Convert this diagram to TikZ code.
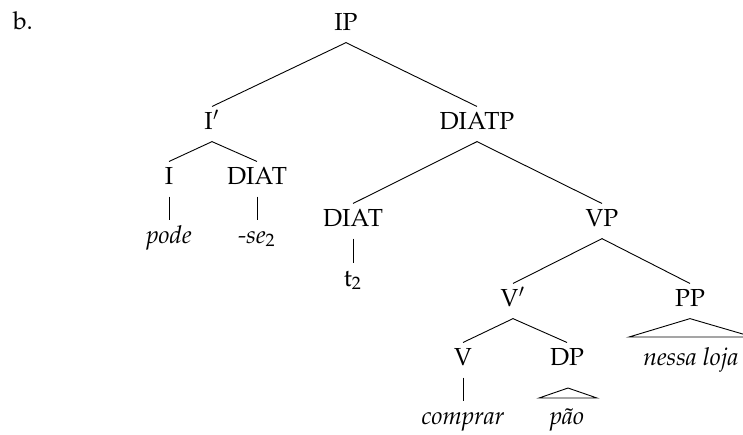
\documentclass[tikz,border=0pt,11pt]{standalone}
\usepackage[T1]{fontenc}
\usepackage{mathpazo}
\usepackage{tikz}
\usetikzlibrary{calc}

\tikzset{
  cat/.style={anchor=base, inner xsep=0pt, inner ysep=2.7pt, text height=7.1pt, text depth=2.7pt},
  lex/.style={cat, font=\itshape},
}

\begin{document}
\begin{tikzpicture}[x=0.444pt, y=-0.444pt]
        \useasboundingbox (0,0) rectangle (743,434);
        \node[cat] (ex) at (23,29) {b.};
        \node[cat] (ip) at (346,30) {IP};
        \node[cat] (ibar) at (212,129) {I$'$};
        \node[cat] (diatp) at (477,129) {DIATP};
        \node[cat] (i) at (169,184) {I};
        \node[cat] (diat) at (257,184) {DIAT};
        \node[lex] (pode) at (169,243) {pode};
        \node[lex] (se) at (257,243) {-se$_2$};
        \node[cat] (diatt) at (353,226) {DIAT};
        \node[cat] (trace) at (353,286) {t$_2$};
        \node[cat] (vp) at (602,226) {VP};
        \node[cat] (vbar) at (513,306) {V$'$};
        \node[cat] (pp) at (690,306) {PP};
        \node[cat] (v) at (463,365) {V};
        \node[cat] (dp) at (567,365) {DP};
        \node[lex] (comprar) at (463,424) {comprar};
        \node[lex] (pao) at (567,424) {p\~ao};
        \node[lex] (nl) at (691,365) {nessa loja};
        \foreach \a/\b in {ip/ibar, ip/diatp, ibar/i, ibar/diat, i/pode, diat/se,
            diatp/diatt, diatp/vp, diatt/trace, vp/vbar, vp/pp, vbar/v, vbar/dp, v/comprar}
        \draw (\a.south) -- (\b.north);
        % roofs
        \draw ($(pao.base)+(1,-36)$) -- ($(pao.base)+(-28,-26)$) -- ($(pao.base)+(30,-26)$) -- cycle;
        \draw (pp.south) -- ($(nl.base)+(-62,-28)$) -- ($(nl.base)+(62,-28)$) -- cycle;
    \end{tikzpicture}
\end{document}
